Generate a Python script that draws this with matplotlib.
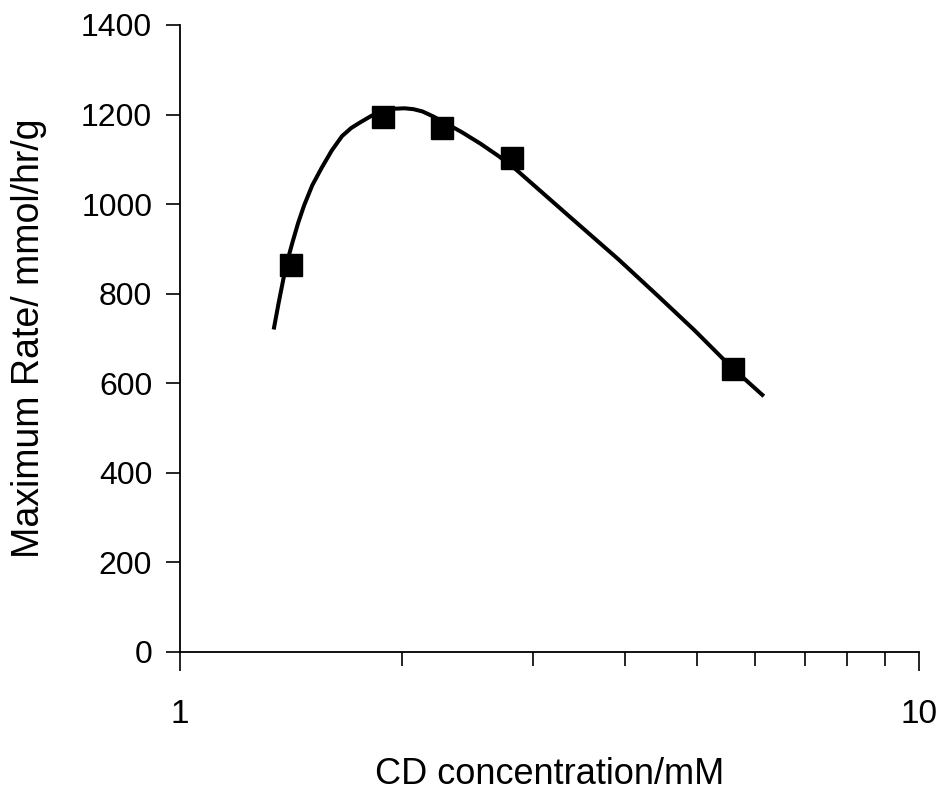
import matplotlib
matplotlib.use("Agg")
import matplotlib.pyplot as plt
from matplotlib.ticker import LogLocator, FixedLocator, NullFormatter

# ── data ─────────────────────────────────────────────────────────────────────

conc_mM = [1.413, 1.882, 2.259, 2.814, 5.595]
max_rate = [864, 1195, 1169, 1103, 632]

# smooth trend line, traced point by point
curve_x = [1.339, 1.360, 1.382, 1.401, 1.421, 1.445, 1.472, 1.510, 1.556,
           1.605, 1.657, 1.705, 1.751, 1.815, 1.882, 1.950, 2.013, 2.070,
           2.128, 2.200, 2.281, 2.410, 2.550, 2.700, 2.850, 3.367, 3.924,
           4.447, 4.970, 5.557, 6.166]
curve_y = [720, 780, 838, 880, 917, 958, 997, 1042, 1082,
           1120, 1152, 1170, 1182, 1197, 1207, 1213, 1214, 1212,
           1207, 1196, 1182, 1160, 1135, 1107, 1077, 972, 876,
           793, 718, 638, 571]

y_ticks = [0, 200, 400, 600, 800, 1000, 1200, 1400]
x_ticks = [1, 10]

# ── plot ─────────────────────────────────────────────────────────────────────

plt.rcParams["font.family"] = ["Liberation Sans", "DejaVu Sans"]

fig = plt.figure(figsize=(9.39, 7.96), dpi=100)
ax = fig.add_axes([0.1917, 0.181, 0.7870, 0.7876])

ax.plot(curve_x, curve_y, color="black", linewidth=2.9,
        solid_capstyle="butt", solid_joinstyle="round", zorder=2)
ax.plot(conc_mM, max_rate, linestyle="none", marker="s", markersize=16,
        color="black", zorder=3)

ax.set_xscale("log")
ax.set_xlim(1, 10)
ax.set_ylim(0, 1400)

ax.xaxis.set_major_locator(FixedLocator(x_ticks))
ax.xaxis.set_major_formatter(plt.FixedFormatter([str(v) for v in x_ticks]))
ax.xaxis.set_minor_locator(LogLocator(base=10, subs=range(2, 10)))
ax.xaxis.set_minor_formatter(NullFormatter())
ax.set_yticks(y_ticks)

ax.tick_params(axis="x", which="major", direction="out", length=14,
               width=1.2, pad=20, labelsize=24)
ax.tick_params(axis="x", which="minor", direction="out", length=10, width=1.2)
ax.tick_params(axis="y", direction="out", length=10, width=1.2, pad=10,
               labelsize=23)

for side in ("top", "right"):
    ax.spines[side].set_visible(False)
for side in ("left", "bottom"):
    ax.spines[side].set_linewidth(1.3)

ax.set_xlabel("CD concentration/mM", fontsize=26, va="center")
ax.xaxis.set_label_coords(0.5, -0.196)
ax.set_ylabel("Maximum Rate/ mmol/hr/g", fontsize=27, va="center")
ax.yaxis.set_label_coords(-0.204, 0.5)

fig.savefig("out.png", dpi=100)
